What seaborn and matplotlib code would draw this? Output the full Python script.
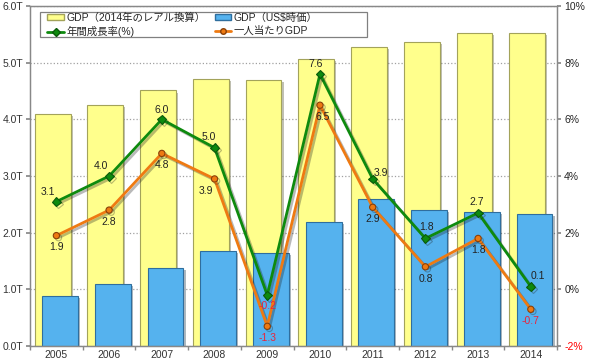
import numpy as np
import matplotlib
matplotlib.use('Agg')
import matplotlib.pyplot as plt
import matplotlib.patheffects as pe
from matplotlib.patches import Patch, Rectangle
from matplotlib.lines import Line2D
import seaborn as sns

# データ (ブラジル GDP 2005-2014)
years = ['2005', '2006', '2007', '2008', '2009', '2010', '2011', '2012', '2013', '2014']
gdp_real = [4.09, 4.25, 4.51, 4.72, 4.70, 5.06, 5.27, 5.36, 5.52, 5.52]   # 兆レアル (2014年換算)
gdp_usd = [0.88, 1.09, 1.38, 1.68, 1.65, 2.19, 2.60, 2.40, 2.37, 2.34]    # 兆US$
growth = [3.1, 4.0, 6.0, 5.0, -0.2, 7.6, 3.9, 1.8, 2.7, 0.1]              # 年間成長率(%)
per_capita = [1.9, 2.8, 4.8, 3.9, -1.3, 6.5, 2.9, 0.8, 1.8, -0.7]         # 一人当たりGDP(%)

sns.set_theme(style='white')
plt.rcParams['font.family'] = ['Liberation Sans', 'Noto Sans CJK JP', 'DejaVu Sans']

YELLOW = '#FFFF8C'
BLUE = '#55B2EE'
GREEN = '#0E8A0E'
ORANGE = '#EE7A12'
NEG_RED = '#E8243C'

fig, ax = plt.subplots(figsize=(5.89, 3.64), dpi=100)
fig.subplots_adjust(left=0.051, right=0.946, bottom=0.049, top=0.9835)

# 棒グラフ
sns.barplot(x=years, y=gdp_real, color=YELLOW, saturation=1, width=0.68,
            edgecolor='#A3A35A', linewidth=0.8, ax=ax)
n_real = len(ax.patches)
sns.barplot(x=years, y=gdp_usd, color=BLUE, saturation=1, width=0.68,
            edgecolor='#2F6E9E', linewidth=0.8, ax=ax)
for i, p in enumerate(ax.patches):
    p.set_x(p.get_x() + (-0.07 if i < n_real else 0.07))
    p.set_path_effects([pe.SimplePatchShadow(offset=(1.5, -1.5), alpha=0.35), pe.Normal()])

ax.set_ylim(0, 6)
ax.set_yticks(np.arange(0, 6.1, 1))
ax.set_yticklabels([f'{v:.1f}T' for v in np.arange(0, 6.1, 1)])
ax.yaxis.grid(True, linestyle=':', color='#A0A0A0', linewidth=0.9)
ax.set_axisbelow(True)

# 折れ線 (右軸)
ax2 = ax.twinx()
sns.pointplot(x=years, y=growth, color=GREEN, markers='D', markersize=4.5,
              linewidth=2, errorbar=None, ax=ax2)
sns.pointplot(x=years, y=per_capita, color=ORANGE, markers='o', markersize=4.5,
              linewidth=2, errorbar=None, ax=ax2)
for ln, mec in zip(ax2.lines, ['#0A5A0A', '#8A4008']):
    ln.set_markeredgecolor(mec)
    ln.set_markeredgewidth(0.8)
    ln.set_path_effects([pe.SimpleLineShadow(offset=(1.5, -1.5), alpha=0.3), pe.Normal()])

ax2.set_ylim(-2, 10)
ax2.set_yticks(np.arange(-2, 10.1, 2))
ax2.set_yticklabels([f'{v:.0f}%' for v in np.arange(-2, 10.1, 2)])
ax2.get_yticklabels()[0].set_color('red')
ax2.grid(False)

# データラベル
growth_dx = [-6, -6, 0, -4, 0, -3, 6, 1, -1, 5]
growth_dy = [7, 7, 7, 8, -8, 7, 4, 8, 8, 8]
for i, v in enumerate(growth):
    ax2.annotate(f'{v:.1f}', (i, v), xytext=(growth_dx[i], growth_dy[i]),
                 textcoords='offset points', ha='center', va='center', fontsize=7.5,
                 color='#222222' if v >= 0 else NEG_RED)
pc_dx = [0, 0, 0, -6, 0, 2, 0, 0, 0, 0]
for i, v in enumerate(per_capita):
    ax2.annotate(f'{v:.1f}', (i, v), xytext=(pc_dx[i], -8.5),
                 textcoords='offset points', ha='center', va='center', fontsize=7.5,
                 color='#222222' if v >= 0 else NEG_RED)

# 軸の体裁
ax.set_xlim(-0.5, 9.5)
ax.set_xlabel('')
ax.set_ylabel('')
ax2.set_xlabel('')
ax2.set_ylabel('')
ax.set_xticks(np.arange(-0.5, 10, 1), minor=True)
ax.tick_params(axis='x', which='major', length=0, labelsize=7.5, labelcolor='#333333', pad=3)
ax.tick_params(axis='x', which='minor', length=3, direction='out', color='#888888', bottom=True)
ax.tick_params(axis='y', length=3, direction='out', color='#888888', left=True,
               labelsize=7.5, labelcolor='#333333', pad=2)
ax2.tick_params(axis='y', length=3, direction='out', color='#888888', right=True,
                labelsize=7.5, pad=2)
for a in (ax, ax2):
    for s in a.spines.values():
        s.set_color('#888888')
        s.set_linewidth(0.9)

# 凡例 (枠はExcel風に右側へ余白を取る)
box = Rectangle((0.019, 0.909), 0.62, 0.073, transform=ax2.transAxes,
                facecolor='white', edgecolor='#808080', linewidth=0.9, zorder=9)
ax2.add_patch(box)
handles = [
    Patch(facecolor=YELLOW, edgecolor='#A3A35A', label='GDP（2014年のレアル換算）'),
    Line2D([0], [0], color=GREEN, lw=2, marker='D', markersize=4, markeredgecolor='#0A5A0A',
           label='年間成長率(%)'),
    Patch(facecolor=BLUE, edgecolor='#2F6E9E', label='GDP（US$時価）'),
    Line2D([0], [0], color=ORANGE, lw=2, marker='o', markersize=4, markeredgecolor='#8A4008',
           label='一人当たりGDP'),
]
leg = ax2.legend(handles=handles, ncol=2, loc='upper left', bbox_to_anchor=(0.027, 0.99),
                 fontsize=7.5, frameon=False, handlelength=1.6, handleheight=0.5,
                 handletextpad=0.2, columnspacing=0.9, labelspacing=0.3,
                 borderpad=0.3, borderaxespad=0)
leg.set_zorder(10)

fig.savefig('out.png', dpi=100)
